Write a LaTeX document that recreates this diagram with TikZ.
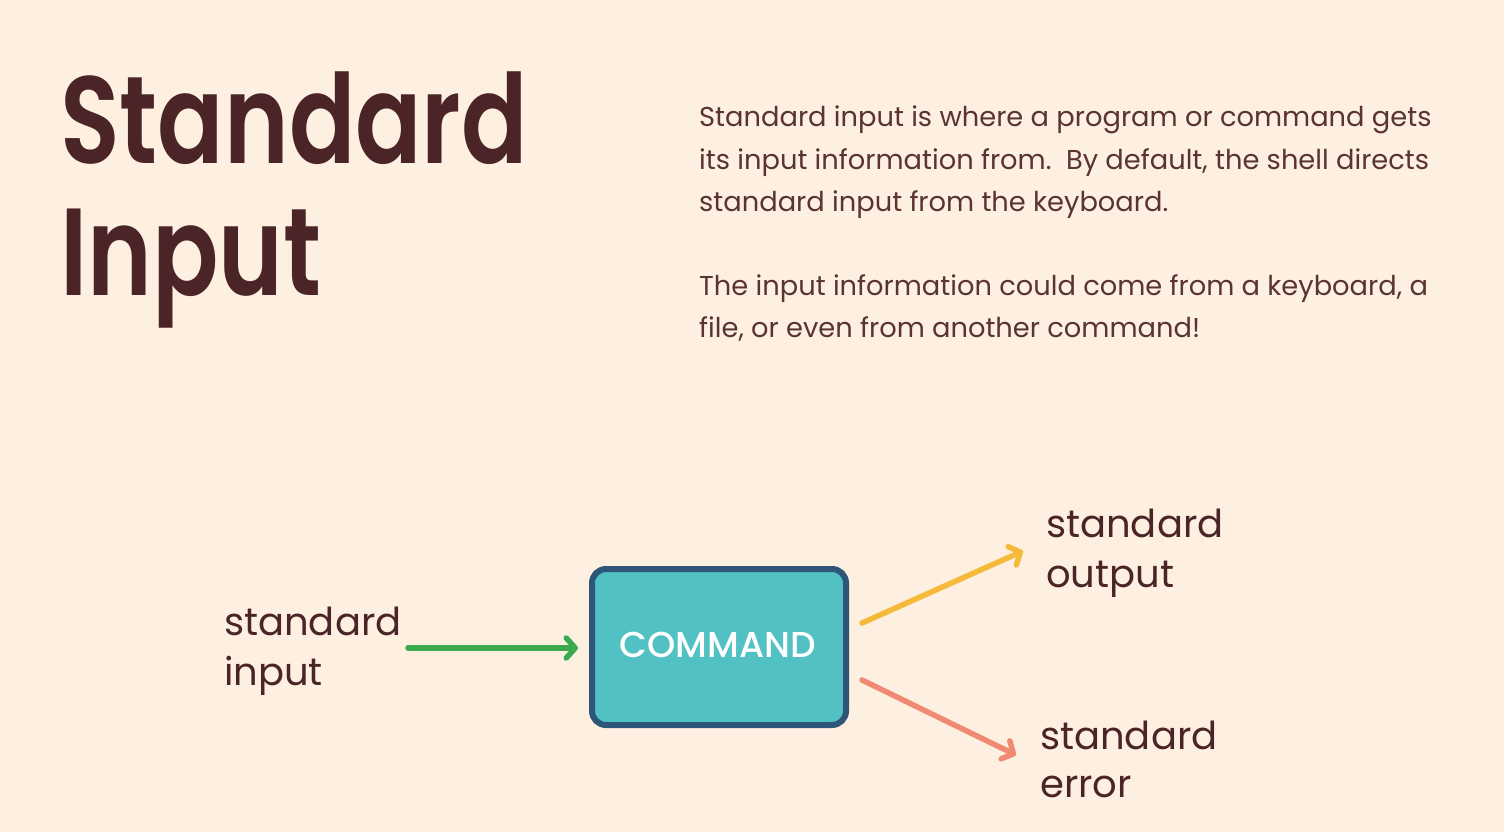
\documentclass[tikz,border=0pt]{standalone}
\usepackage{fontspec}
\setmainfont{Poppins}
\newfontfamily\titlefont{Poppins SemiBold}[FakeStretch=0.79]
\newfontfamily\medfont{Poppins Medium}
\usetikzlibrary{arrows.meta}
\definecolor{bg}{HTML}{FEF0E0}
\definecolor{ink}{HTML}{4A2427}
\definecolor{body}{HTML}{5A3434}
\definecolor{boxfill}{HTML}{52C1C4}
\definecolor{boxline}{HTML}{2D5678}
\definecolor{cgreen}{HTML}{3BAA4E}
\definecolor{cyellow}{HTML}{F5BA3A}
\definecolor{csalmon}{HTML}{F08A72}
\tikzset{
  title/.style={anchor=base west, inner sep=0pt, text=ink, font=\titlefont\fontsize{124}{132}\selectfont},
  para/.style={anchor=base west, inner sep=0pt, text=body, align=left, font=\fontsize{27.3}{42}\selectfont},
  lbl/.style={anchor=base west, inner sep=0pt, text=ink, align=left, font=\fontsize{38.5}{50}\selectfont},
  flow/.style={line width=5.5pt, line cap=round, -{Straight Barb[round, length=9pt, width=20pt, line width=5.5pt]}},
}
\begin{document}
\begin{tikzpicture}[x=1pt, y=-1pt]
\useasboundingbox[fill=bg] (0,0) rectangle (1504,832);
\node[title] (t1) at (60,163) {Standard};
\node[title] (t2) at (60,295) {Input};
\node[para] (p1) at (699,127) {Standard input is where a program or command gets};
\node[para] (p2) at (699,169) {its input information from.\ \ By default, the shell directs};
\node[para] (p3) at (699,211) {standard input from the keyboard.};
\node[para] (p4) at (699,295) {The input information could come from a keyboard, a};
\node[para] (p5) at (699,337) {file, or even from another command!};
\node[draw=boxline, fill=boxfill, line width=6pt, rounded corners=14pt, minimum width=254pt, minimum height=156pt, inner sep=0pt] (cmd) at (719,647) {};
\node[text=white, font=\medfont\fontsize{36}{40}\selectfont, inner sep=0pt] (cmdt) at (718,645) {COMMAND};
\node[lbl] (in1) at (224,635) {standard};
\node[lbl] (in2) at (224,685) {input};
\node[lbl] (o1) at (1046,537) {standard};
\node[lbl] (o2) at (1046,587) {output};
\node[lbl] (e1) at (1040,749) {standard};
\node[lbl] (e2) at (1040,797) {error};
\coordinate (gs) at (408,648);
\coordinate (ge) at (578,648);
\coordinate (ys) at (862,623);
\coordinate (ye) at (1023,551);
\coordinate (ss) at (862,680);
\coordinate (se) at (1016,755);
\draw[flow, draw=cgreen] (gs) -- (ge);
\draw[flow, draw=cyellow] (ys) -- (ye);
\draw[flow, draw=csalmon] (ss) -- (se);
\end{tikzpicture}
\end{document}
